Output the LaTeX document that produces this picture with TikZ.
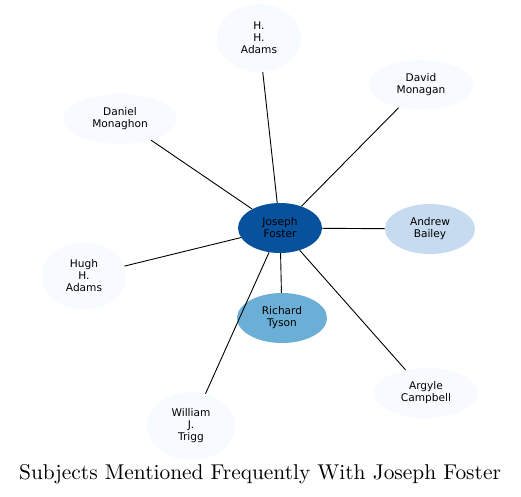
\documentclass[tikz,border=0pt]{standalone}
\usepackage{fontspec}
\newfontfamily\nodefont{DejaVu Sans}
\newfontfamily\titlefont{lmroman10-regular.otf}
\usetikzlibrary{shapes.geometric}
\definecolor{blueD}{HTML}{08519C}
\definecolor{blueM}{HTML}{6BAED6}
\definecolor{blueL}{HTML}{C6DBEF}
\definecolor{blueP}{HTML}{F7FBFF}

\begin{document}
\begin{tikzpicture}[x=1pt,y=-1pt,
   subj/.style={ellipse,fill=#1,inner sep=0pt,align=center,
     font=\nodefont\fontsize{10.6}{12}\selectfont,text=black},
   subj/.default=blueP]
  \useasboundingbox (0,0) rectangle (521,496);
  % people around the hub
  \node[subj=blueD,minimum width=84,minimum height=50] (foster) at (280,228) {Joseph\\Foster};
  \node[subj,minimum width=84,minimum height=68] (hhadams) at (259,38) {H.\\H.\\Adams};
  \node[subj,minimum width=104,minimum height=50] (monagan) at (421,85) {David\\Monagan};
  \node[subj,minimum width=114,minimum height=50] (monaghon) at (120,119) {Daniel\\Monaghon};
  \node[subj=blueL,minimum width=90,minimum height=50] (bailey) at (430,229) {Andrew\\Bailey};
  \node[subj,minimum width=84,minimum height=68] (hughadams) at (84,276) {Hugh\\H.\\Adams};
  \node[subj=blueM,minimum width=90,minimum height=50] (tyson) at (282,318) {Richard\\Tyson};
  \node[subj,minimum width=104,minimum height=50] (campbell) at (426,393) {Argyle\\Campbell};
  \node[subj,minimum width=88,minimum height=68] (trigg) at (191,426) {William\\J.\\Trigg};
  % links
  \foreach \n in {hhadams,monagan,monaghon,bailey,hughadams,tyson,campbell,trigg}
    \draw[black,line width=0.9pt] (foster) -- (\n);
  \node[font=\titlefont\fontsize{21.4}{25}\selectfont] (title) at (260,474) {Subjects Mentioned Frequently With Joseph Foster};
\end{tikzpicture}
\end{document}
